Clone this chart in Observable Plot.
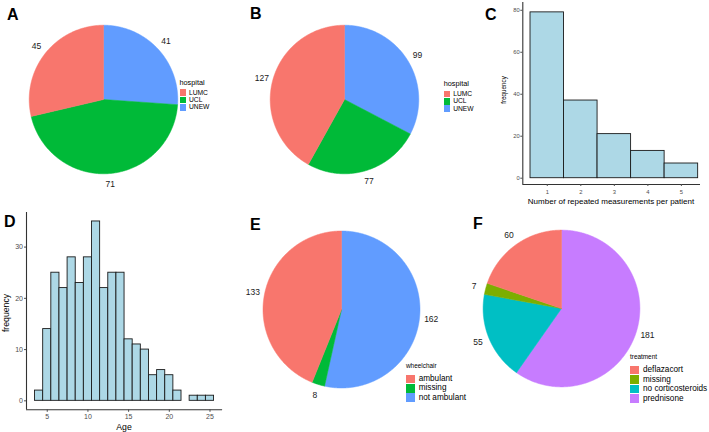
<!DOCTYPE html>
<html>
<head>
<meta charset="utf-8">
<script src="https://cdn.jsdelivr.net/npm/d3@7"></script>
<script src="https://cdn.jsdelivr.net/npm/@observablehq/plot@0.6"></script>
<style>
  html, body { margin: 0; padding: 0; background: #fff; }
  #fig { position: relative; width: 709px; height: 432px; overflow: hidden; background: #fff;
         font-family: "Liberation Sans", Arial, sans-serif; }
  #fig svg { overflow: visible; }
</style>
</head>
<body>
<div id="fig"></div>
<script>
// ---------------- data ----------------
const hospitals = ["LUMC", "UCL", "UNEW"];
const patientsPerHospital = [45, 71, 41];        // panel A
const measurementsPerHospital = [127, 77, 99];   // panel B

const repeatMeasurements = [1, 2, 3, 4, 5];      // panel C
const repeatFrequency = [79, 37, 21, 13, 7];

const ageBins = [4, 5, 6, 7, 8, 9, 10, 11, 12, 13, 14, 15, 16, 17, 18, 19, 20, 21, 22, 23, 24, 25]; // panel D
const ageFrequency = [2, 14, 25, 22, 28, 23, 28, 35, 22, 25, 25, 12, 11, 10, 5, 6, 5, 2, 0, 1, 1, 1];

const wheelchairStatus = ["ambulant", "missing", "not ambulant"];   // panel E
const wheelchairCounts = [133, 8, 162];

const treatments = ["deflazacort", "missing", "no corticosteroids", "prednisone"]; // panel F
const treatmentCounts = [60, 7, 55, 181];

// ---------------- styles ----------------
const FONT = '"Liberation Sans", Arial, sans-serif';
const hue3 = ["#F8766D", "#00BA38", "#619CFF"];
const hue4 = ["#F8766D", "#7CAE00", "#00BFC4", "#C77CFF"];
const barFill = "#ADD8E6";
const fig = document.getElementById("fig");

function place(el, left, top) {
  el.style.position = "absolute";
  el.style.left = left + "px";
  el.style.top = top + "px";
  fig.appendChild(el);
  return el;
}
function label(str, x, y, size, opts = {}) {
  const d = document.createElement("div");
  d.textContent = str;
  Object.assign(d.style, {
    position: "absolute", left: x + "px", top: y + "px", fontSize: size + "px",
    lineHeight: "1", whiteSpace: "nowrap", fontFamily: FONT,
    color: opts.color || "#000", fontWeight: opts.bold ? "bold" : "normal",
    transform: opts.transform || "translateY(-50%)"
  });
  fig.appendChild(d);
  return d;
}
function legend(title, cats, colors, o) {
  label(title, o.left, o.titleY, o.titleSize, {color: "#000"});
  cats.forEach((c, i) => {
    const cy = o.rowY + i * o.rowH;
    const sw = document.createElement("div");
    Object.assign(sw.style, {position: "absolute", left: o.left + "px", top: (cy - o.sw / 2) + "px",
      width: o.sw + "px", height: o.sw + "px", background: colors[i]});
    fig.appendChild(sw);
    label(c, o.textX, cy, o.textSize, {color: "#000"});
  });
}
function pie(cats, vals, colors, o) {
  const total = d3.sum(vals);
  const order = d3.range(cats.length).reverse(); // last level starts at 12 o'clock, clockwise
  let acc = 0;
  const polys = [], texts = [];
  for (const i of order) {
    const a0 = acc / total * 2 * Math.PI;
    acc += vals[i];
    const a1 = acc / total * 2 * Math.PI;
    const n = Math.max(2, Math.ceil((a1 - a0) / (Math.PI / 360)));
    polys.push({key: cats[i], x: 0, y: 0});
    for (let j = 0; j <= n; j++) {
      const a = a0 + (a1 - a0) * j / n;
      polys.push({key: cats[i], x: Math.sin(a), y: Math.cos(a)});
    }
    polys.push({key: cats[i], x: 0, y: 0});
    const am = (a0 + a1) / 2;
    texts.push({x: 1.15 * Math.sin(am), y: 1.15 * Math.cos(am), t: String(vals[i])});
  }
  const k = o.half / o.r;
  const svg = Plot.plot({
    width: 2 * o.half, height: 2 * o.half, margin: 0,
    x: {domain: [-k, k], axis: null},
    y: {domain: [-k, k], axis: null},
    color: {domain: cats, range: colors},
    style: {fontFamily: FONT, background: "transparent", overflow: "visible"},
    marks: [
      Plot.line(polys, {x: "x", y: "y", z: "key", fill: "key", stroke: "key", strokeWidth: 0.5, curve: "linear"}),
      Plot.text(texts, {x: "x", y: "y", text: "t", fontSize: o.fontSize, fill: "#1a1a1a"})
    ]
  });
  place(svg, o.cx - o.half, o.cy - o.half);
}

// ---------------- panel letters ----------------
[["A", 7, 7], ["B", 250, 6], ["C", 485, 7], ["D", 4, 214], ["E", 250, 217], ["F", 473, 216]]
  .forEach(([t, x, y]) => label(t, x, y, 16, {bold: true, transform: "none"}));

// ---------------- A ----------------
pie(hospitals, patientsPerHospital, hue3, {cx: 102.7, cy: 98.5, r: 74.3, half: 98, fontSize: 8.5});
legend("hospital", hospitals, hue3, {left: 179.5, titleY: 83, titleSize: 7.3, rowY: 92.7, rowH: 7.3, sw: 6.8, textX: 189, textSize: 6.7});

// ---------------- B ----------------
pie(hospitals, measurementsPerHospital, hue3, {cx: 344, cy: 98.5, r: 74.3, half: 98, fontSize: 8.5});
legend("hospital", hospitals, hue3, {left: 443.7, titleY: 84, titleSize: 7.3, rowY: 94, rowH: 7.3, sw: 6.8, textX: 453.2, textSize: 6.7});

// ---------------- C ----------------
{
  const data = repeatMeasurements.map((m, i) => ({m, n: repeatFrequency[i]}));
  const xd = [0.27, 5.57], yd = [-3, 83.7];
  const svg = Plot.plot({
    width: 239, height: 210, marginLeft: 52.3, marginRight: 9, marginTop: 2, marginBottom: 26,
    x: {domain: xd}, y: {domain: yd},
    style: {fontFamily: FONT, background: "transparent", overflow: "visible", color: "#333"},
    marks: [
      Plot.rectY(data, {x1: d => d.m - 0.5, x2: d => d.m + 0.5, y: "n", fill: barFill, stroke: "#1a1a1a", strokeWidth: 0.9}),
      Plot.ruleX([xd[0]], {stroke: "#333", strokeWidth: 1.1}),
      Plot.ruleY([yd[0]], {stroke: "#333", strokeWidth: 1.1}),
      Plot.axisX({ticks: repeatMeasurements, tickSize: 2, tickPadding: 3.5, fontSize: 5.8, color: "#4d4d4d", label: null, tickFormat: d => d}),
      Plot.axisY({ticks: [0, 20, 40, 60, 80], tickSize: 2, tickPadding: 1, fontSize: 5.8, color: "#4d4d4d", label: null, tickFormat: d => d})
    ]
  });
  place(svg, 470, 0);
  label("Number of repeated measurements per patient", 611, 202.3, 8, {transform: "translate(-50%,-50%)"});
  label("frequency", 503.7, 90, 6.3, {transform: "translate(-50%,-50%) rotate(-90deg)"});
}

// ---------------- D ----------------
{
  const data = ageBins.map((a, i) => ({a, n: ageFrequency[i]}));
  const xd = [2.45, 26.55], yd = [-1.75, 36.75];
  const svg = Plot.plot({
    width: 235, height: 222, marginLeft: 26, marginRight: 12.9, marginTop: 2, marginBottom: 22.7,
    x: {domain: xd}, y: {domain: yd},
    style: {fontFamily: FONT, background: "transparent", overflow: "visible", color: "#333"},
    marks: [
      Plot.rectY(data.filter(d => d.n > 0), {x1: d => d.a - 0.5, x2: d => d.a + 0.5, y: "n", fill: barFill, stroke: "#1a1a1a", strokeWidth: 0.9}),
      Plot.ruleX([xd[0]], {stroke: "#333", strokeWidth: 1.1}),
      Plot.ruleY([yd[0]], {stroke: "#333", strokeWidth: 1.1}),
      Plot.axisX({ticks: [5, 10, 15, 20, 25], tickSize: 2.5, tickPadding: 1.5, fontSize: 7, color: "#4d4d4d", label: null, tickFormat: d => d}),
      Plot.axisY({ticks: [0, 10, 20, 30], tickSize: 2, tickPadding: 1.5, fontSize: 7, color: "#4d4d4d", label: null, tickFormat: d => d})
    ]
  });
  place(svg, 0, 210);
  label("Age", 124, 426.5, 8.7, {transform: "translate(-50%,-50%)"});
  label("frequency", 5.5, 312.5, 8.7, {transform: "translate(-50%,-50%) rotate(-90deg)"});
}

// ---------------- E ----------------
pie(wheelchairStatus, wheelchairCounts, hue3, {cx: 341, cy: 308.5, r: 78.5, half: 100, fontSize: 8.5});
legend("wheelchair", wheelchairStatus, hue3, {left: 406, titleY: 366.3, titleSize: 6.4, rowY: 379, rowH: 9.35, sw: 8.6, textX: 418.7, textSize: 8.2});

// ---------------- F ----------------
pie(treatments, treatmentCounts, hue4, {cx: 561, cy: 308, r: 78.4, half: 100, fontSize: 8.5});
legend("treatment", treatments, hue4, {left: 630, titleY: 356.7, titleSize: 6.4, rowY: 370, rowH: 9.55, sw: 8.8, textX: 643, textSize: 8.2});
</script>
</body>
</html>
